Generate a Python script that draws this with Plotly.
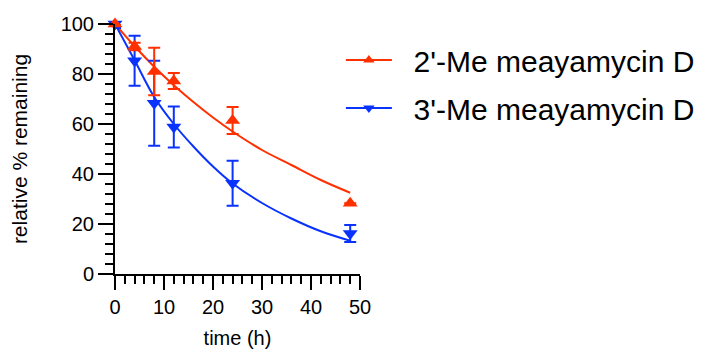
import plotly.graph_objects as go

# ---- data ----
time_h = [0, 4, 8, 12, 24, 48]
me2_mean = [100, 91, 81, 77.2, 61.4, 28.3]
me2_err = [0, 1.5, 9.5, 3.2, 5.4, 0]
me3_mean = [100, 85.3, 68.3, 58.8, 36.3, 16.2]
me3_err = [1.6, 10.0, 17.0, 8.2, 9.0, 3.4]

fit_time = [0, 4, 8, 12, 16, 20, 24, 30, 36, 42, 48]
me2_fit = [100, 91.1, 82.9, 75.5, 68.8, 62.6, 57.0, 49.6, 43.6, 37.6, 32.5]
me3_fit = [100, 85.5, 70.8, 60.0, 51.0, 43.0, 36.2, 28.4, 22.2, 17.1, 13.3]

series_names = ["2'-Me meayamycin D", "3'-Me meayamycin D"]
x_ticks = [0, 10, 20, 30, 40, 50]
y_ticks = [0, 20, 40, 60, 80, 100]

RED = "#FF3000"
BLUE = "#0A32FF"
FONT = "Liberation Sans, Arial, sans-serif"

fig = go.Figure()

# fitted curves
fig.add_trace(go.Scatter(x=fit_time, y=me2_fit, mode="lines", line=dict(color=RED, width=2, shape="spline"),
                         showlegend=False, cliponaxis=False, hoverinfo="skip"))
fig.add_trace(go.Scatter(x=fit_time, y=me3_fit, mode="lines", line=dict(color=BLUE, width=2, shape="spline"),
                         showlegend=False, cliponaxis=False, hoverinfo="skip"))

# data points with error bars
fig.add_trace(go.Scatter(x=time_h, y=me3_mean, mode="markers",
                         marker=dict(symbol="triangle-down", size=13, color=BLUE),
                         error_y=dict(type="data", array=me3_err, visible=True, color=BLUE, thickness=2, width=6),
                         showlegend=False, cliponaxis=False))
fig.add_trace(go.Scatter(x=time_h, y=me2_mean, mode="markers",
                         marker=dict(symbol="triangle-up", size=13, color=RED),
                         error_y=dict(type="data", array=me2_err, visible=True, color=RED, thickness=2, width=6),
                         showlegend=False, cliponaxis=False))

# legend entries
pad = "\u00a0\u00a0"
fig.add_trace(go.Scatter(x=[None], y=[None], mode="lines+markers", name=pad + series_names[0],
                         marker=dict(symbol="triangle-up", size=10, color=RED), line=dict(color=RED, width=2),
                         legendgroup="a"))
fig.add_trace(go.Scatter(x=[None], y=[None], mode="lines+markers", name=pad + series_names[1],
                         marker=dict(symbol="triangle-down", size=10, color=BLUE), line=dict(color=BLUE, width=2),
                         legendgroup="b"))

axis_common = dict(showline=True, linewidth=2, linecolor="black", ticks="outside", tickwidth=2,
                   tickcolor="black", showgrid=False, zeroline=False, automargin=False,
                   tickfont=dict(family=FONT, size=20, color="black"))

# page body has an 8px margin, so the figure is 8px smaller and margins shifted
fig.update_layout(
    width=696, height=343,
    margin=dict(l=107, r=344, t=16, b=77, autoexpand=False),
    paper_bgcolor="white", plot_bgcolor="white",
    font=dict(family=FONT, color="black"),
    xaxis=dict(range=[0, 50], tickvals=x_ticks, ticklen=14,
               minor=dict(dtick=2, ticklen=8, tickwidth=2, ticks="outside", tickcolor="black"),
               title=dict(text="time (h)", font=dict(family=FONT, size=20), standoff=14),
               **axis_common),
    yaxis=dict(range=[0, 100], tickvals=y_ticks, ticklen=15,
               minor=dict(dtick=4, ticklen=8, tickwidth=2, ticks="outside", tickcolor="black"),
               title=dict(text="relative % remaining", font=dict(family=FONT, size=21), standoff=37),
               **axis_common),
    legend=dict(x=0.922, y=0.96, xanchor="left", yanchor="top", traceorder="grouped", tracegroupgap=6,
                itemwidth=46,
                font=dict(family=FONT, size=30, color="black"), bgcolor="rgba(0,0,0,0)"),
)

fig.write_html("out.html")
